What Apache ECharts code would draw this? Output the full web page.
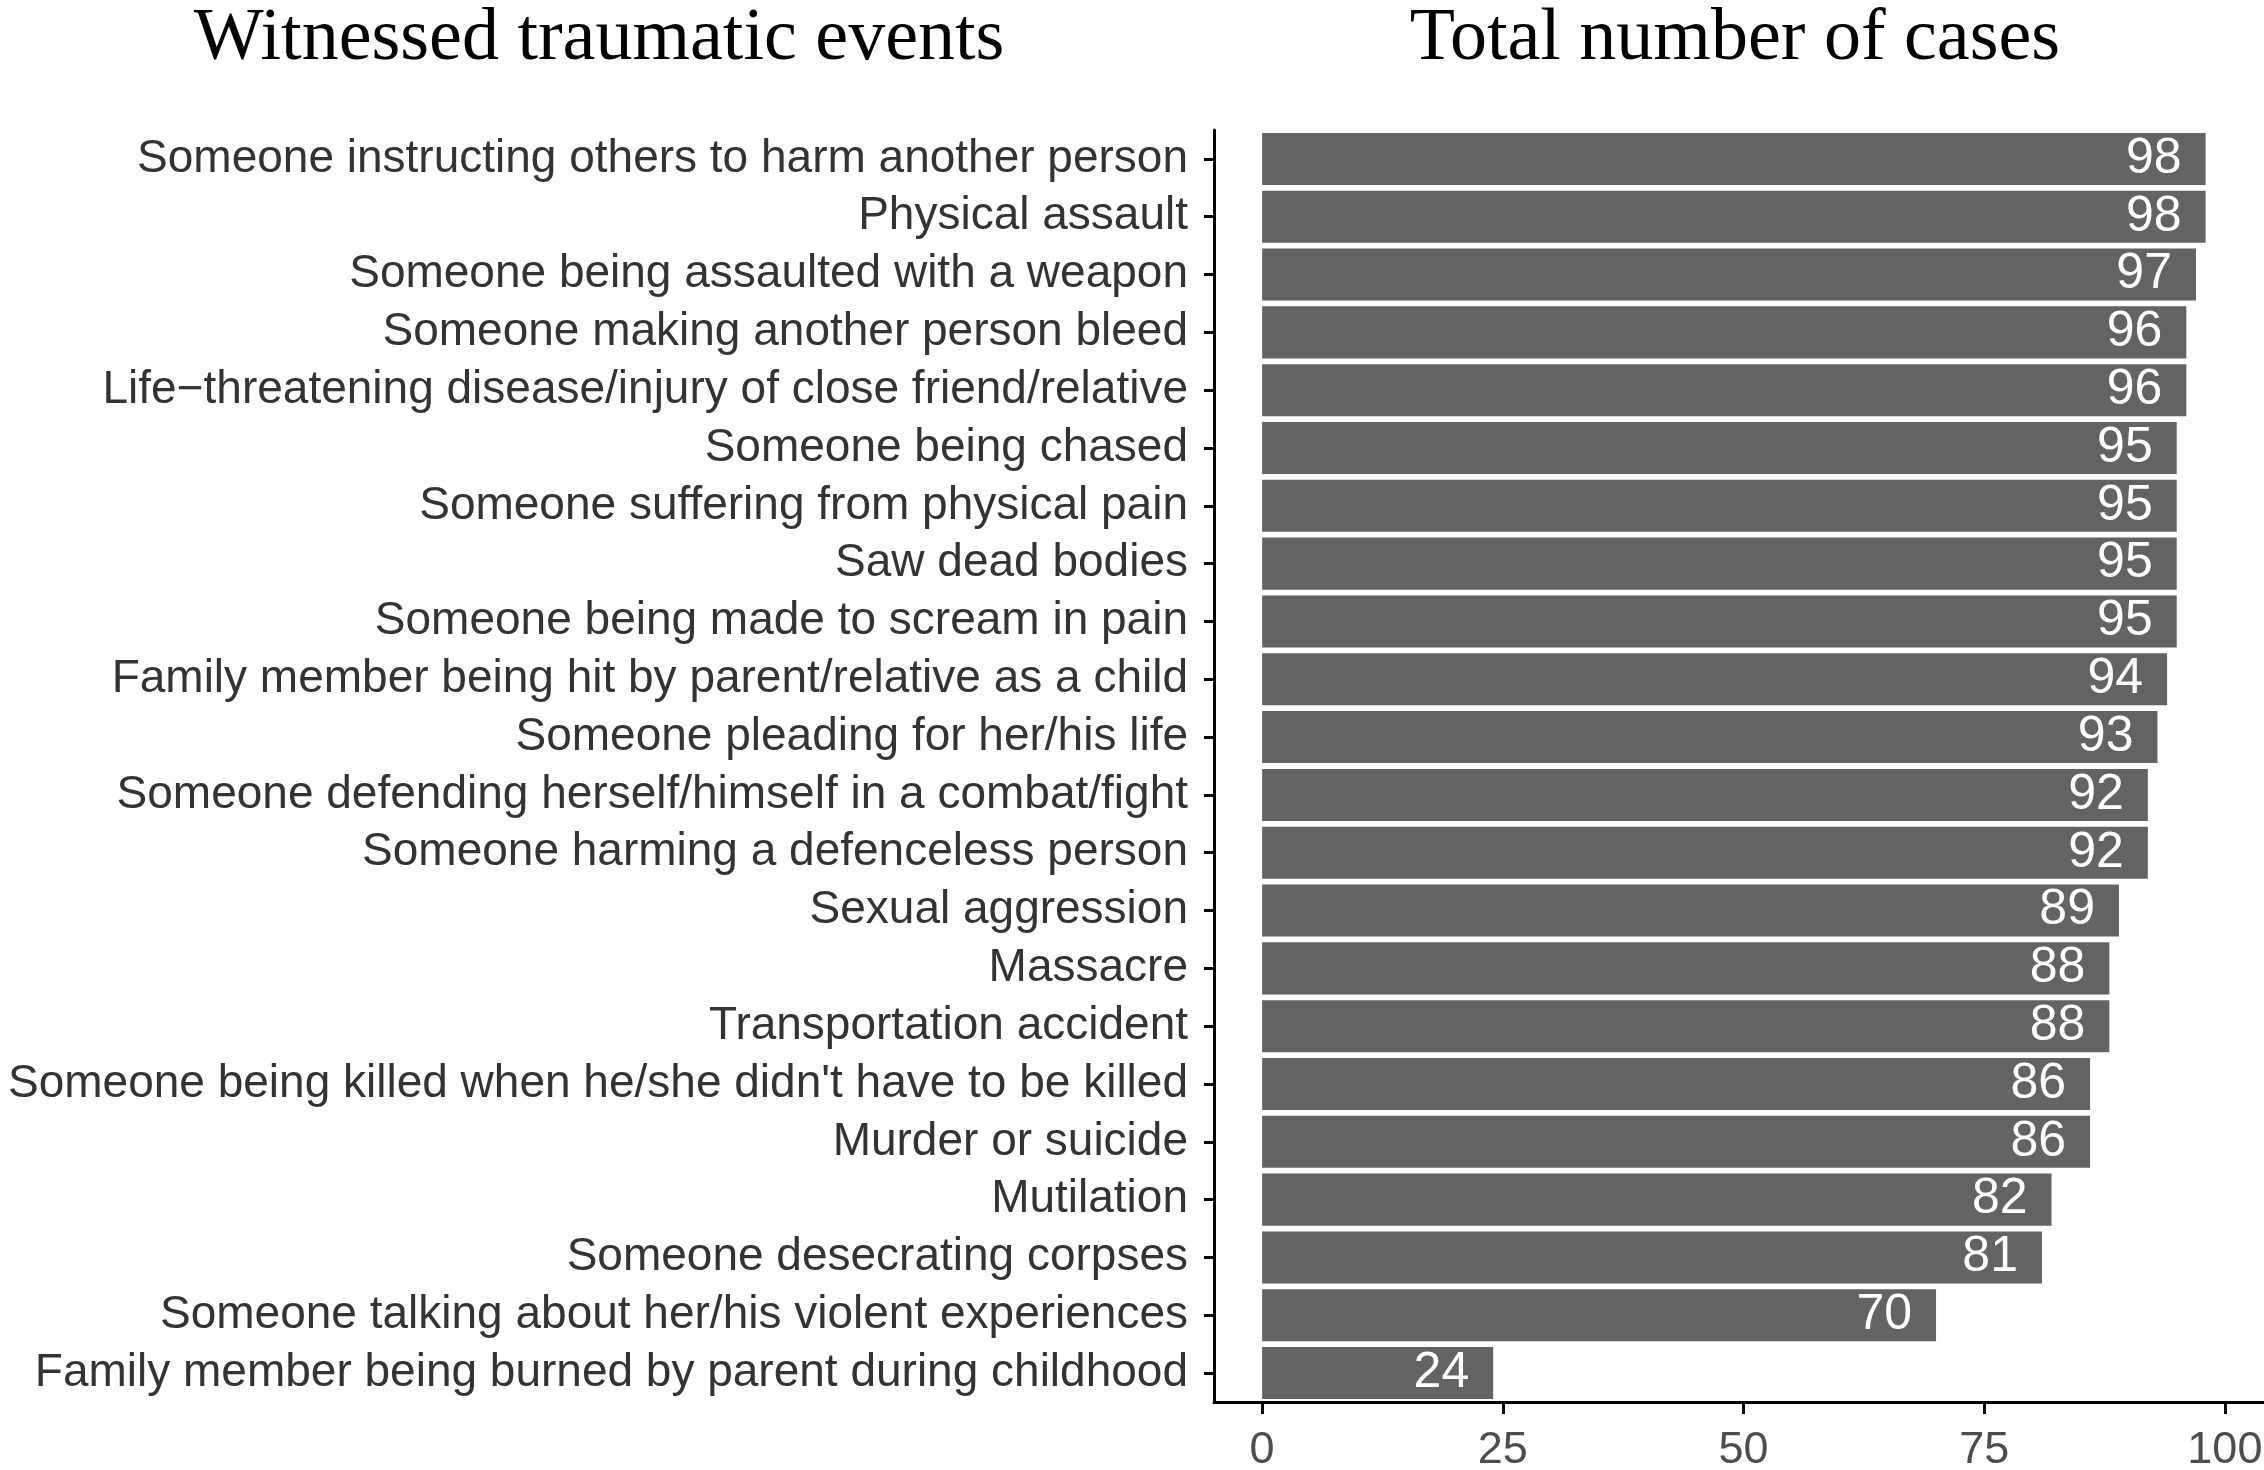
<!DOCTYPE html>
<html>
<head>
<meta charset="utf-8">
<script src="https://cdn.jsdelivr.net/npm/echarts@6/dist/echarts.min.js"></script>
<style>
html,body{margin:0;padding:0;background:#fff;}
#chart{width:2264px;height:1470px;}
</style>
</head>
<body>
<div id="chart"></div>
<script>
const categories = [
  "Someone instructing others to harm another person",
  "Physical assault",
  "Someone being assaulted with a weapon",
  "Someone making another person bleed",
  "Life\u2212threatening disease/injury of close friend/relative",
  "Someone being chased",
  "Someone suffering from physical pain",
  "Saw dead bodies",
  "Someone being made to scream in pain",
  "Family member being hit by parent/relative as a child",
  "Someone pleading for her/his life",
  "Someone defending herself/himself in a combat/fight",
  "Someone harming a defenceless person",
  "Sexual aggression",
  "Massacre",
  "Transportation accident",
  "Someone being killed when he/she didn't have to be killed",
  "Murder or suicide",
  "Mutilation",
  "Someone desecrating corpses",
  "Someone talking about her/his violent experiences",
  "Family member being burned by parent during childhood"
];
const cases = [98, 98, 97, 96, 96, 95, 95, 95, 95, 94, 93, 92, 92, 89, 88, 88, 86, 86, 82, 81, 70, 24];
const xTicks = [0, 25, 50, 75, 100];
const titleLeft = "Witnessed traumatic events";
const titleRight = "Total number of cases";

const chart = echarts.init(document.getElementById('chart'));
chart.setOption({
  backgroundColor: '#ffffff',
  animation: false,
  graphic: [
    { type: 'text', x: 599, y: 40, style: { text: titleLeft, font: '74px "Liberation Serif", "Times New Roman", serif', fill: '#000', textAlign: 'center', textVerticalAlign: 'middle' } },
    { type: 'text', x: 1735, y: 40, style: { text: titleRight, font: '74px "Liberation Serif", "Times New Roman", serif', fill: '#000', textAlign: 'center', textVerticalAlign: 'middle' } }
  ],
  grid: { left: 1214, top: 130, width: 1059, height: 1272, containLabel: false, outerBoundsMode: 'none' },
  xAxis: {
    type: 'value', min: -5, max: 105,
    splitLine: { show: false },
    axisLine: { show: true, onZero: false, lineStyle: { color: '#000', width: 3 } },
    axisTick: { show: true, length: 12, lineStyle: { color: '#000', width: 3 }, customValues: xTicks },
    axisLabel: { customValues: xTicks, color: '#4d4d4d', fontSize: 45, fontFamily: '"Liberation Sans", Arial, sans-serif', margin: 26 }
  },
  yAxis: {
    type: 'category', data: categories, inverse: true,
    axisLine: { show: true, onZero: false, lineStyle: { color: '#000', width: 3 } },
    axisTick: { show: true, alignWithLabel: true, length: 10, lineStyle: { color: '#000', width: 3 } },
    axisLabel: { color: '#333333', fontSize: 46, fontFamily: '"Liberation Sans", Arial, sans-serif', margin: 26, interval: 0 },
    splitLine: { show: false }
  },
  series: [{
    type: 'bar', data: cases, barCategoryGap: '10%',
    itemStyle: { color: '#636363' },
    label: { show: true, position: 'insideRight', distance: 24, color: '#fff', fontSize: 50, fontFamily: '"Liberation Sans", Arial, sans-serif' }
  }]
});
</script>
</body>
</html>
